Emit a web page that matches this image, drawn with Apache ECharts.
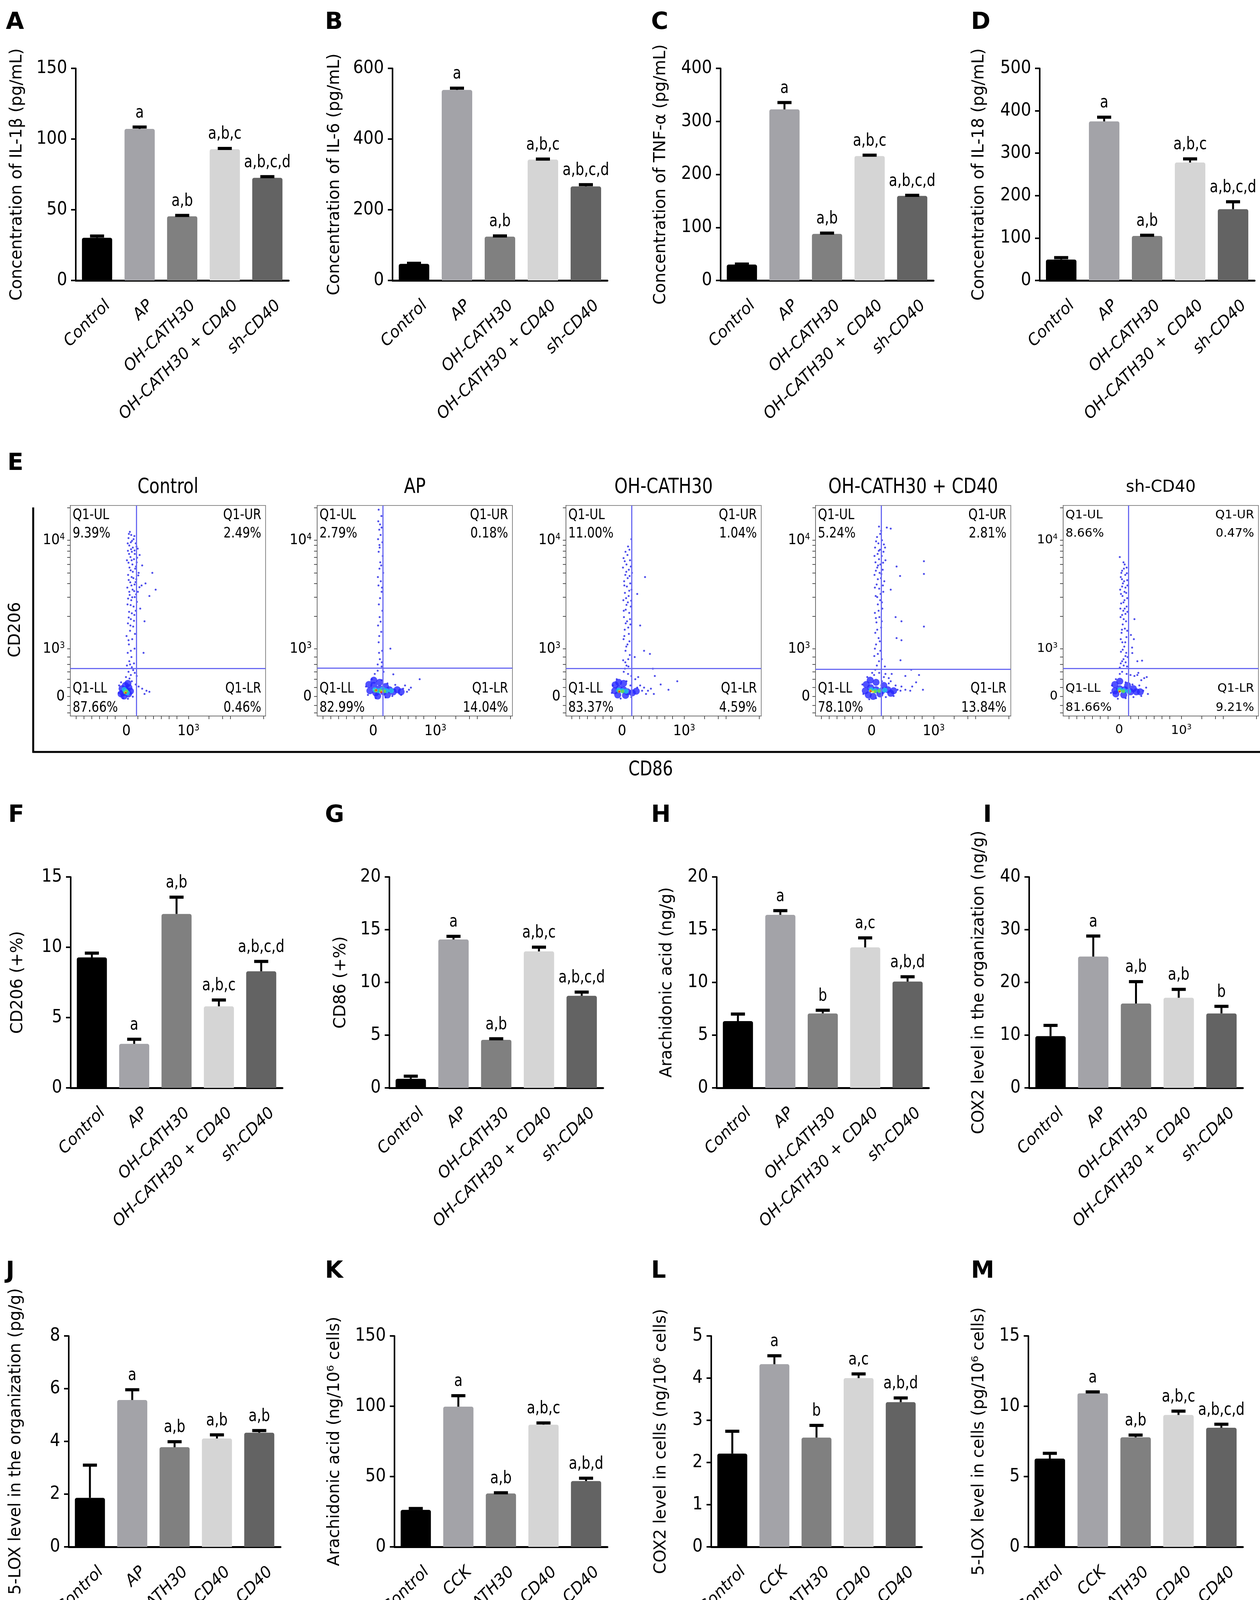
<!DOCTYPE html>
<html>
<head>
<meta charset="utf-8">
<script src="https://cdn.jsdelivr.net/npm/echarts@6/dist/echarts.min.js"></script>
<style>
	html, body { margin: 0; padding: 0; background: #fff; }
	#chart { width: 3226px; height: 4353px; }
</style>
</head>
<body>
<div id="chart"></div>
<script>
// ---- categories
var groupsAP = ['Control', 'AP', 'OH-CATH30', 'OH-CATH30 + CD40', 'sh-CD40'];
var groupsCCK = ['Control', 'CCK', 'OH-CATH30', 'OH-CATH30 + CD40', 'sh-CD40'];
var sigFull = ['', 'a', 'a,b', 'a,b,c', 'a,b,c,d'];

// A IL-1β
var il1bMean = [30.2, 107.2, 45.4, 92.8, 72.6];
var il1bSd = [1.2, 1.3, 0.6, 0.6, 0.8];
// B IL-6
var il6Mean = [47, 539, 124, 342, 266];
var il6Sd = [1.5, 5, 2, 1.5, 5];
// C TNF-α
var tnfMean = [30, 322.6, 87.9, 234.7, 159.5];
var tnfSd = [1, 13, 1.5, 1.5, 1];
// D IL-18
var il18Mean = [49.3, 375, 105, 278, 168];
var il18Sd = [4.6, 10, 1.5, 8.5, 17.5];
// F CD206
var cd206Mean = [9.28, 3.13, 12.37, 5.8, 8.29];
var cd206Sd = [0.3, 0.33, 1.19, 0.45, 0.7];
// G CD86
var cd86Mean = [0.86, 14.07, 4.56, 12.94, 8.73];
var cd86Sd = [0.25, 0.3, 0.1, 0.4, 0.35];
// H arachidonic acid (tissue)
var aaTissueMean = [6.33, 16.41, 7.06, 13.32, 10.08];
var aaTissueSd = [0.67, 0.4, 0.3, 0.9, 0.46];
var aaTissueSig = ['', 'a', 'b', 'a,c', 'a,b,d'];
// I COX2 (tissue)
var cox2TissueMean = [9.81, 24.9, 16.0, 17.09, 14.12];
var cox2TissueSd = [2.05, 3.9, 4.15, 1.6, 1.35];
var cox2TissueSig = ['', 'a', 'a,b', 'a,b', 'b'];
// J 5-LOX (tissue)
var lox5TissueMean = [1.86, 5.57, 3.78, 4.11, 4.33];
var lox5TissueSd = [1.24, 0.39, 0.21, 0.14, 0.08];
var lox5TissueSig = ['', 'a', 'a,b', 'a,b', 'a,b'];
// K arachidonic acid (cells)
var aaCellMean = [26.3, 99.7, 38.0, 86.9, 46.8];
var aaCellSd = [1, 7.8, 0.5, 1.2, 2];
var aaCellSig = ['', 'a', 'a,b', 'a,b,c', 'a,b,d'];
// L COX2 (cells)
var cox2CellMean = [2.21, 4.33, 2.59, 4.0, 3.43];
var cox2CellSd = [0.53, 0.2, 0.29, 0.1, 0.1];
var cox2CellSig = ['', 'a', 'b', 'a,c', 'a,b,d'];
// M 5-LOX (cells)
var lox5CellMean = [6.28, 10.92, 7.79, 9.38, 8.47];
var lox5CellSd = [0.37, 0.1, 0.16, 0.27, 0.25];

// ---- flow cytometry (E), coordinates in display units of the biexponential axes (0-100)
var flowTitles = ['Control', 'AP', 'OH-CATH30', 'OH-CATH30 + CD40', 'sh-CD40'];
var flowUL = ['9.39%', '2.79%', '11.00%', '5.24%', '8.66%'];
var flowUR = ['2.49%', '0.18%', '1.04%', '2.81%', '0.47%'];
var flowLL = ['87.66%', '82.99%', '83.37%', '78.10%', '81.66%'];
var flowLR = ['0.46%', '14.04%', '4.59%', '13.84%', '9.21%'];
var flowXTickPos = [28.7, 60.5];
var flowXTickText = ['0', '10{s|3}'];
var flowYTickPos = [9.3, 31.9, 83.5];
var flowYTickText = ['0', '10{s|3}', '10{s|4}'];
var flowXMinor = [3, 7, 11, 15, 19, 23, 28.7, 34.5, 38.5, 42.5, 46.5, 50.5, 54.5, 60.5, 71, 78, 82, 99];
var flowYMinor = [1.5, 5, 9.3, 13.5, 17.5, 21, 24.5, 28, 31.9, 47.4, 56.5, 63, 67.9, 72, 75.4, 78.4, 81.1, 83.5, 99];
var gateX = [33.8, 33.7, 33.6, 33.7, 33.4];
var gateY = [22.6, 22.8, 22.6, 22.3, 22.6];

var ctrlArm = [[30.5,87.5],[31.2,86],[29.8,84.5],[32.4,84],[31,82.5],[33.5,82],[30.2,81],[32,80],[34.5,79.5],[29.5,78.5],
	[31.5,78],[33,77],[35.5,76.5],[30.8,75.5],[32.6,74.5],[29,74],[34,73],[31.8,72],[36.8,71.5],[30.3,70.5],
	[33.2,70],[32,68.5],[35,68],[29.6,67],[31.4,66],[33.8,65],[30.7,63.5],[32.9,62.5],[38.5,63],[29.2,61],
	[31.9,60],[34.6,59],[30.4,57.5],[33,56.5],[31.2,55],[29.3,53],[32.4,52],[35.8,51],[30.1,49.5],[32.8,48],
	[31,46],[29.5,44],[32.2,42.5],[30.6,40.5],[28.8,38],[31.7,36.5],[30,34],[32.9,32],[29.4,30],[31.3,28],
	[30.2,26],[32.6,25],[29,24],[31.5,23.2],[36.5,62],[40.5,57],[43.7,60],[38,45],[42,68],[37.5,30],
	[29.8,21],[31,19.5],[28.5,18.5],[33,20.5],[35,14],[36.8,13],[39,12],[40.5,11.5],[38,10.5],
	[30,86.5],[32.8,85.5],[31.6,83.2],[29.4,82],[33.9,80.5],[31.1,79.2],[32.9,78.6],[30.1,77],[34.2,75.2],[31.4,74],
	[29.8,72.8],[33.6,71],[30.9,69.2],[34.8,66.8],[32.3,65.5],[29.9,64.6],[33.4,63.6],[31.3,62],[35.4,61.2],[32.7,59.3],
	[30.2,59],[33.7,57.8],[31.7,56.4],[29.6,55.8],[34.1,54.2],[30.9,52.7],[33.5,50],[31.5,48.8],[29.9,46.8],[32.6,45.2],
	[30.8,43],[33.1,39],[29.8,36],[31,31],[30.6,24.5],[32.2,21.8],[34,19],[30.3,17.8],
	[26,16],[25,14.5],[31.5,16.5],[33.5,15],[24.8,11],[32,9.2],[27,8.5],[29.5,8.2]];
var apArm = [[31.5,98],[32.2,91],[31.8,88.5],[32.5,86],[31.2,84],[33.4,82.5],[32,80],[31.5,78],[33.6,76],[32.3,73],
	[31.9,70],[33.8,68],[32.6,64],[31.4,62],[33,59],[32.2,56],[31.6,53],[33.4,50],[32,47],[31.2,43],
	[32.8,40],[31.5,35],[33.3,31],[32.1,27],[31,24.5],[33,23.5],[37.5,32],[31.7,30],
	[34,21],[31,21.5],[29.5,20],[39,19.8],[52.5,17.5],[44,13],[47,12.5],[42,11],[45,14.5],
	[32.9,95],[31.3,92.5],[33,89.5],[31.9,81.2],[32.8,71.5],[31.1,66],[33.2,61],[32.5,44.8],[31.8,38],[33.1,25.5],
	[25,14],[26,10],[28,17.5],[33,17],[36,15.5],[40,14.8],[43,10],[38.5,9.5],[35,8.8],[30,8.5],[46,11.5],[48,13.5]];
var ohArm = [[33.5,84],[32.5,79],[30.5,78],[31.5,76.5],[29.5,75],[32.8,74],[31,72],[29.2,70.5],[32.2,69.5],[33.8,68],
	[30.4,67],[31.6,65.5],[29.8,64],[32.9,63],[31.2,61.5],[33.6,60],[30.2,58.5],[32.1,57],[29.4,55],[31.7,54],
	[33.2,52],[30.6,50.5],[32.4,49],[29.7,47],[31.3,45],[33,43.5],[30.1,41],[32.2,39],[29.5,36.5],[31.5,34],
	[30.5,31],[32.7,29],[29.3,26.5],[31,24],[30.2,22.5],[32,23.5],[40.5,66],[36.5,58],[38,43],[43,29.5],
	[40,31],[35.2,28],[44.5,22.5],[45.5,19],[48.5,15],[57,16.5],[52.5,12.5],[42,12],[45,10.5],[40,13.5],[38,14.5],
	[31.8,80.5],[30.1,73.5],[33.2,71],[30.9,68.5],[32.6,66.5],[29.9,62],[32.4,59.5],[30.8,56],[33.4,54.8],[31,52.8],
	[29.6,50],[32.8,46],[30.6,44],[31.9,42],[29.9,38],[32.5,35.5],[30.9,33],[31.9,27],[30.4,25.5],[29.6,21],
	[31.8,20],[33.5,19],[35.5,17.5],[37,18.5],
	[24,14.5],[23.5,11],[26,17.5],[31,16.5],[33,14.5],[36.5,13.5],[39,12],[41,10.5],[33.5,9],[28,8.3],[43.5,13]];
var cd40Arm = [[32.5,90],[33.6,88],[36.5,89.5],[38.5,89],[31.5,85],[34,83.5],[32.2,82],[35,81.5],[30.5,80],[33,79],
	[34.8,78],[31.8,77],[33.9,76],[32.5,74.5],[35.8,74],[30.7,73],[33.2,72],[31.6,70.5],[34.4,69.5],[32.8,68],
	[30.2,67],[33.5,65.5],[35.2,64],[31.3,62.5],[32.6,60.5],[34.7,59],[30.8,57],[33.1,55],[31.9,53],[34.2,51],
	[30.4,49],[32.7,47],[31.2,44.5],[33.6,42],[30.6,39.5],[32.3,37],[31,34],[33.2,31],[30.1,28.5],[32.5,26],
	[31.4,24],[35.5,23.5],[38.5,60],[41.5,71],[43.3,66.5],[55.5,73.5],[55.5,67.5],[41,47],[44,45],[55.5,42.5],
	[41.5,37],[44,36],[43.5,26.5],[49,22],[39,20],[46,19],[53,19.5],[51.5,16],[55,12.5],[48.5,12],
	[44,14],[42,12.5],[38.5,16.5],[35,18.5],[29,20.5],
	[33.1,86.5],[31,83],[35.6,80],[32.4,78.5],[30.2,76],[34.6,72.8],[32,71.5],[30.9,69],[33.7,67.5],[31.9,65],
	[34.5,62],[30.4,61],[33.3,58],[31.6,56.5],[34,54],[32.3,50],[30.9,46.5],[33.9,45],[31.6,41],[32.9,35.5],
	[30.4,32],[31.9,29.5],[33.9,27],[30.6,22],[32.6,20.5],[35.8,20],[37.5,18],
	[24,15],[24.5,10.5],[26.5,18.5],[30,19.5],[34,16.5],[37.5,15.5],[41,14.5],[43.5,12],[40,9.5],[36,9],
	[31,8.5],[27.5,8],[46,12.5],[49.5,14]];
var shArm = [[29,75.5],[31.5,72],[32.5,70.5],[30.2,69],[31.8,67],[29.5,66],[32.8,64.5],[30.6,63],[31.9,61],[29.2,60],
	[32.3,58.5],[30.4,57],[31.4,55],[29.7,53.5],[32.5,52],[30.8,50],[31.9,48.5],[29.4,47],[32.2,45],[30.5,43.5],
	[31.6,41.5],[29.9,39.5],[32.4,37.5],[30.3,35],[31.3,33],[29.6,30.5],[31.9,28.5],[30.2,26],[31,24],[29,23],
	[32.7,23.5],[33,28],[36.5,46],[34.7,38.5],[36.2,36.5],[35.3,32.5],[35.4,29.9],
	[38,26],[40.4,26.3],[36.5,19],[38,19.5],[40,17],[41.5,18],[42.8,18.5],[43.4,10.5],[38.5,20.5],
	[30.9,73],[31.1,70],[29.8,68],[32.6,67.8],[30.1,65],[31.2,64],[32.9,62],[30.2,61.5],[31.4,59],[29.6,58],
	[32.8,56],[30.9,54],[29.3,51],[31.5,51],[32.9,49.5],[30.2,48],[31,46],[30.1,41],[32.8,40.5],[29.5,36.5],
	[31.8,35],[30.5,31.5],[32.3,30],[30.9,27],[29.5,25],[32,25.5],[30.2,21],[32.5,20],[34.5,19.5],[29,20],
	[25,14.5],[24.5,11],[27,17.5],[32,16],[35.5,15],[39,14.5],[41,12],[40,9.5],[36,9],[32,8.5],[28,8.2],[42.5,13.5]];

// dense cores: [x, y, density level 0..4]
var ctrlCore = [[28.4,12.5,0],[27,11,0],[29.8,10.5,0],[28.2,14.5,0],[26.5,13,0],[30,13.5,0],[27.5,9.5,0],[29.5,15.5,0],[26,10.5,0],[30.8,11.8,0],
	[28.4,11.8,1],[27.6,12.6,1],[29.2,11,1],[28,11.2,2],[28.8,11.8,2],[28.3,11.2,3],[28.4,11,4]];
var apCore = [[27,12,0],[29,14.5,0],[30,11,0],[32,13,0],[32,16,0],[34,11.5,0],[35,14,0],[37,12.5,0],[39,11.5,0],[41,12.5,0],
	[43,11.5,0],[29,17,0],[26.5,15,0],[31,9.5,0],[36,10,0],
	[29.5,12.5,1],[31.5,12,1],[33.5,12.8,1],[35.5,12,1],[38,12,1],[30,12,2],[32.5,12,2],[34.5,11.8,2],
	[30.3,12.2,3],[33,11.6,3],[30.2,12.3,4],[32.8,11.3,4]];
var ohCore = [[27.3,13,0],[25,12,0],[29.5,12.5,0],[31.5,11.5,0],[34,11,0],[36,11.8,0],[27,16,0],[29.5,15.5,0],[26.5,10,0],[25.2,14.8,0],
	[30.5,9.8,0],[27,12.3,1],[28.8,12,1],[30.8,11.8,1],[27.2,11.8,2],[29,11.7,2],[27.4,11.8,3],[27.3,11.6,4]];
var cd40Core = [[28.2,13.5,0],[25.5,12,0],[31,12.5,0],[34,12,0],[37,12.5,0],[40,12,0],[28,17,0],[31,16,0],[27,10,0],[33,10.5,0],
	[26,15,0],[35,14.5,0],[38.5,10.8,0],[29.5,9.3,0],
	[28.5,12.5,1],[30.5,12,1],[33,12,1],[35.5,12.3,1],[28.3,12,2],[30.5,11.7,2],[32.5,11.9,2],
	[28.2,11.9,3],[29.5,11.5,3],[28.2,11.8,4]];
var shCore = [[28.9,13,0],[26.5,12,0],[31.5,12.5,0],[34.5,11.5,0],[37.5,11.5,0],[29,16.5,0],[27,10.5,0],[31,10,0],[26.5,15,0],[33,14.5,0],
	[36,13,0],[39.5,11.5,0],[29,12.5,1],[31,12,1],[33.5,11.8,1],[29,12,2],[30.8,11.8,2],[28.9,11.8,3],[28.9,11.6,4]];
var flowArms = [ctrlArm, apArm, ohArm, cd40Arm, shArm];
var flowCores = [ctrlCore, apCore, ohCore, cd40Core, shCore];

// ---- styles and layout
var COND = "'DejaVu Sans Condensed', 'Liberation Sans Narrow', sans-serif";
var WIDE = "'DejaVu Sans', Verdana, sans-serif";
var SQ = 0.89; // extra horizontal squeeze for the narrow labels
var barColors = ['#000000', '#a3a3a8', '#808080', '#d5d5d5', '#636363'];
var coreColors = ['#2626ff', '#1ec8e8', '#6fdc3c', '#ffe01a', '#ff1a1a'];
var coreSizes = [18, 13, 9, 6, 5];

var barPanels = [
	{ letter: 'A', cats: groupsAP, mean: il1bMean, sd: il1bSd, sig: sigFull, max: 150, step: 50, yName: 'Concentration of IL-1β (pg/mL)', box: [194, 175, 545, 543], nameX: 44, lx: 15, ly: 58 },
	{ letter: 'B', cats: groupsAP, mean: il6Mean, sd: il6Sd, sig: sigFull, max: 600, step: 200, yName: 'Concentration of IL-6 (pg/mL)', box: [1005, 175, 550, 543], nameX: 857, lx: 832, ly: 58 },
	{ letter: 'C', cats: groupsAP, mean: tnfMean, sd: tnfSd, sig: sigFull, max: 400, step: 100, yName: 'Concentration of TNF-α (pg/mL)', box: [1845, 175, 545, 543], nameX: 1692, lx: 1667, ly: 58 },
	{ letter: 'D', cats: groupsAP, mean: il18Mean, sd: il18Sd, sig: sigFull, max: 500, step: 100, yName: 'Concentration of IL-18 (pg/mL)', box: [2662, 175, 550, 543], nameX: 2507, lx: 2486, ly: 58 },
	{ letter: 'F', cats: groupsAP, mean: cd206Mean, sd: cd206Sd, sig: sigFull, max: 15, step: 5, yName: 'CD206 (+%)', box: [181, 2245, 542, 540], nameX: 46, lx: 21, ly: 2088 },
	{ letter: 'G', cats: groupsAP, mean: cd86Mean, sd: cd86Sd, sig: sigFull, max: 20, step: 5, yName: 'CD86 (+%)', box: [997, 2245, 547, 540], nameX: 873, lx: 832, ly: 2088 },
	{ letter: 'H', cats: groupsAP, mean: aaTissueMean, sd: aaTissueSd, sig: aaTissueSig, max: 20, step: 5, yName: 'Arachidonic acid (ng/g)', box: [1835, 2245, 543, 540], nameX: 1708, lx: 1667, ly: 2088 },
	{ letter: 'I', cats: groupsAP, mean: cox2TissueMean, sd: cox2TissueSd, sig: cox2TissueSig, max: 40, step: 10, yName: 'COX2 level in the organization (ng/g)', box: [2635, 2245, 547, 540], nameX: 2507, lx: 2517, ly: 2088 },
	{ letter: 'J', cats: groupsAP, mean: lox5TissueMean, sd: lox5TissueSd, sig: lox5TissueSig, max: 8, step: 2, yName: '5-LOX level in the organization (pg/g)', box: [176, 3420, 542, 540], nameX: 41, lx: 15, ly: 3255 },
	{ letter: 'K', cats: groupsCCK, mean: aaCellMean, sd: aaCellSd, sig: aaCellSig, max: 150, step: 50, yName: 'Arachidonic acid (ng/10⁶ cells)', box: [1010, 3420, 545, 540], nameX: 857, lx: 832, ly: 3255 },
	{ letter: 'L', cats: groupsCCK, mean: cox2CellMean, sd: cox2CellSd, sig: cox2CellSig, max: 5, step: 1, yName: 'COX2 level in cells (ng/10⁶ cells)', box: [1821, 3420, 539, 540], nameX: 1693, lx: 1667, ly: 3255 },
	{ letter: 'M', cats: groupsCCK, mean: lox5CellMean, sd: lox5CellSd, sig: sigFull, max: 15, step: 5, yName: '5-LOX level in cells (pg/10⁶ cells)', box: [2633, 3420, 549, 540], nameX: 2507, lx: 2486, ly: 3255 }
];
var flowLeft = [180, 812, 1449, 2088, 2722];
var flowTop = 1294, flowW = 500, flowH = 539;

var grids = [], xAxes = [], yAxes = [], series = [], graphics = [];

function txt(x, y, text, o) {
	return {
		type: 'text', x: x, y: y, rotation: o.rotation || 0, scaleX: o.sx || 1,
		style: {
			text: text, fill: '#000', fontSize: o.size, fontFamily: o.family || WIDE,
			fontWeight: o.weight || 'normal', fontStyle: o.style || 'normal',
			align: o.align || 'left', textAlign: o.align || 'left',
			verticalAlign: o.valign || 'middle', textVerticalAlign: o.valign || 'middle'
		}
	};
}

barPanels.forEach(function (p, k) {
	var b = p.box;
	grids.push({ left: b[0], top: b[1], width: b[2], height: b[3], outerBoundsMode: 'none' });
	xAxes.push({
		type: 'category', gridIndex: k, data: p.cats,
		axisLine: { lineStyle: { color: '#000', width: 5 } },
		axisTick: { alignWithLabel: true, length: 14, lineStyle: { color: '#000', width: 4 } },
		axisLabel: { show: false }
	});
	yAxes.push({
		type: 'value', gridIndex: k, min: 0, max: p.max, interval: p.step,
		axisLine: { show: true, lineStyle: { color: '#000', width: 4 } },
		axisTick: { show: true, length: 12, lineStyle: { color: '#000', width: 4 } },
		axisLabel: { color: '#000', fontFamily: COND, fontSize: 46, margin: 22 },
		splitLine: { show: false },
		name: p.yName, nameLocation: 'middle', nameRotate: 90, nameGap: b[0] - p.nameX - 21,
		nameTextStyle: { color: '#000', fontFamily: WIDE, fontSize: 42 }
	});
	series.push({
		type: 'bar', xAxisIndex: k, yAxisIndex: k, barWidth: '71%',
		itemStyle: { color: function (q) { return barColors[q.dataIndex]; }, borderRadius: [5, 5, 0, 0] },
		data: p.mean
	});
	series.push({
		type: 'custom', xAxisIndex: k, yAxisIndex: k, z: 5,
		data: p.mean.map(function (m, i) { return [i, m, p.sd[i]]; }),
		renderItem: function (params, api) {
			var i = api.value(0), m = api.value(1), s = api.value(2);
			var p0 = api.coord([i, m]), p1 = api.coord([i, m + s]);
			var ch = [
				{ type: 'line', shape: { x1: p0[0], y1: p0[1], x2: p1[0], y2: p1[1] }, style: { stroke: '#000', lineWidth: 5 } },
				{ type: 'rect', shape: { x: p1[0] - 18, y: p1[1] - 4, width: 36, height: 8 }, style: { fill: '#000' } }
			];
			var t = p.sig[params.dataIndex];
			if (t) ch.push(txt(p1[0], p1[1] - 14, t, { size: 44, family: COND, sx: SQ, align: 'center', valign: 'bottom' }));
			var a = api.coord([i, 0]);
			ch.push(txt(a[0] + 28, a[1] + 58, p.cats[params.dataIndex], { size: 41, style: 'italic', align: 'right', rotation: Math.PI / 4 }));
			return { type: 'group', children: ch };
		}
	});
	graphics.push(txt(p.lx, p.ly, p.letter, { size: 60, weight: 'bold' }));
});

// flow panels
function tickLabel(pos, text) {
	return function (v) {
		for (var i = 0; i < pos.length; i++) if (Math.abs(pos[i] - v) < 0.01) return text[i];
		return '';
	};
}
flowTitles.forEach(function (title, f) {
	var k = grids.length;
	var last = f === 4;
	var fam = last ? WIDE : COND;
	var tick = last ? 32 : 38;
	grids.push({ left: flowLeft[f], top: flowTop, width: flowW, height: flowH, show: true, borderColor: '#8a8a8a', borderWidth: 2, backgroundColor: '#fff', outerBoundsMode: 'none' });
	xAxes.push({
		type: 'value', gridIndex: k, min: 0, max: 100,
		axisLine: { show: true, onZero: false, lineStyle: { color: '#707070', width: 2 } },
		axisTick: { show: true, customValues: flowXMinor, length: 8, lineStyle: { color: '#555', width: 2 } },
		axisLabel: { customValues: flowXTickPos, formatter: tickLabel(flowXTickPos, flowXTickText), color: '#000', fontFamily: fam, fontSize: tick, margin: 20,
			rich: { s: { fontFamily: fam, fontSize: tick * 0.6, verticalAlign: 'top', padding: [0, 0, 16, 0] } } },
		splitLine: { show: false }
	});
	yAxes.push({
		type: 'value', gridIndex: k, min: 0, max: 100,
		axisLine: { show: true, onZero: false, lineStyle: { color: '#707070', width: 2 } },
		axisTick: { show: true, customValues: flowYMinor, length: 8, lineStyle: { color: '#555', width: 2 } },
		axisLabel: { customValues: flowYTickPos, formatter: tickLabel(flowYTickPos, flowYTickText), color: '#000', fontFamily: fam, fontSize: tick, margin: 14,
			rich: { s: { fontFamily: fam, fontSize: tick * 0.6, verticalAlign: 'top', padding: [0, 0, 16, 0] } } },
		splitLine: { show: false }
	});
	series.push({
		type: 'scatter', xAxisIndex: k, yAxisIndex: k, symbolSize: 5,
		itemStyle: { color: '#2020e6' }, data: flowArms[f],
		markLine: {
			silent: true, symbol: 'none', label: { show: false },
			lineStyle: { color: '#6b6bf2', width: 3, type: 'solid' },
			data: [{ xAxis: gateX[f] }, { yAxis: gateY[f] }]
		}
	});
	series.push({
		type: 'scatter', xAxisIndex: k, yAxisIndex: k, z: 3,
		symbolSize: function (d) { return coreSizes[d[2]]; },
		itemStyle: { color: function (q) { return coreColors[q.data[2]]; } },
		data: flowCores[f]
	});
	var qText = ['Q1-UL', flowUL[f], 'Q1-UR', flowUR[f], 'Q1-LL', flowLL[f], 'Q1-LR', flowLR[f]];
	var qPos = [[1.2, 95.4], [1.2, 86.7], [97.8, 95.4], [97.8, 86.7], [1.2, 13.0], [1.2, 3.9], [97.8, 13.0], [97.8, 3.9]];
	series.push({
		type: 'custom', xAxisIndex: k, yAxisIndex: k, z: 6,
		data: qPos.map(function (q, i) { return [q[0], q[1], i]; }),
		renderItem: function (params, api) {
			var c = api.coord([api.value(0), api.value(1)]);
			var i = api.value(2);
			return txt(c[0], c[1], qText[i], { size: last ? 31 : 38, family: fam, sx: last ? 1 : SQ, align: i % 4 < 2 ? 'left' : 'right' });
		}
	});
	graphics.push(txt(flowLeft[f] + flowW / 2, 1248, title, { size: last ? 42 : 54, family: fam, sx: last ? 1 : SQ, align: 'center' }));
});

graphics.push(txt(19, 1187, 'E', { size: 60, weight: 'bold' }));
graphics.push(txt(40, 1612, 'CD206', { size: 42, align: 'center', rotation: Math.PI / 2 }));
graphics.push(txt(1666, 1971, 'CD86', { size: 52, family: COND, sx: SQ, align: 'center' }));
graphics.push({ type: 'line', shape: { x1: 85, y1: 1299, x2: 85, y2: 1927 }, style: { stroke: '#000', lineWidth: 5 } });
graphics.push({ type: 'line', shape: { x1: 83, y1: 1925, x2: 3226, y2: 1925 }, style: { stroke: '#000', lineWidth: 5 } });

var chart = echarts.init(document.getElementById('chart'));
chart.setOption({
	animation: false,
	backgroundColor: '#fff',
	grid: grids,
	xAxis: xAxes,
	yAxis: yAxes,
	series: series,
	graphic: { elements: graphics }
});
</script>
</body>
</html>
